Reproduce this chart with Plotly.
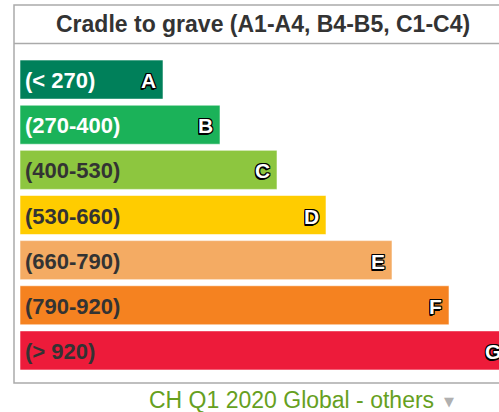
import plotly.graph_objects as go

grades = ["A", "B", "C", "D", "E", "F", "G"]
ranges = ["(< 270)", "(270-400)", "(400-530)", "(530-660)", "(660-790)", "(790-920)", "(> 920)"]
bar_lengths = [143, 200, 257, 306, 372, 429, 488]
colors = ["#00805a", "#1bb259", "#8dc63f", "#ffcc00", "#f4ab63", "#f58220", "#ed1b3a"]
label_colors = ["#ffffff", "#ffffff", "#333333", "#333333", "#333333", "#333333", "#333333"]
title_text = "Cradle to grave (A1-A4, B4-B5, C1-C4)"
footer_text = "CH Q1 2020 Global - others"

X_MAX = 479
FONT = "Liberation Sans, Arial, Helvetica, sans-serif"
outline = ("-1px -1px 0 #000, 1px -1px 0 #000, -1px 1px 0 #000, 1px 1px 0 #000, "
           "0 1px 0 #000, 1px 0 0 #000, -1px 0 0 #000, 0 -1px 0 #000, -1px 2px 0 #000")

W, H = 499, 412
L, T, B = 20, 57, 412 - 373

fig = go.Figure()
fig.add_trace(go.Bar(
    y=grades,
    x=bar_lengths,
    orientation="h",
    marker=dict(color=colors, line=dict(color="rgba(255,255,255,0.55)", width=1)),
    cliponaxis=True,
    hoverinfo="skip",
))

annotations = []
for g, r, c, v in zip(grades, ranges, label_colors, bar_lengths):
    annotations.append(dict(
        x=0, y=g, xref="x", yref="y", text=r, showarrow=False,
        xanchor="left", yanchor="middle", xshift=3, yshift=-1,
        font=dict(family=FONT, size=22, color=c, weight="bold"),
    ))
    annotations.append(dict(
        x=v / X_MAX, y=g, xref="paper", yref="y", text=g, showarrow=False,
        xanchor="right", yanchor="middle", xshift=-5, yshift=-1,
        font=dict(family=FONT, size=21, color="#ffffff", weight="bold", shadow=outline),
    ))

plot_w = W - L
plot_h = H - T - B

def px_x(px):
    return (px - L) / plot_w

def px_y(py):
    return (H - B - py) / plot_h

annotations.append(dict(
    x=px_x(263), y=px_y(24), xref="paper", yref="paper", text=title_text,
    showarrow=False, xanchor="center", yanchor="middle",
    font=dict(family=FONT, size=23, color="#333333", weight="bold"),
))
annotations.append(dict(
    x=px_x(291), y=px_y(400), xref="paper", yref="paper", text=footer_text,
    showarrow=False, xanchor="center", yanchor="middle",
    font=dict(family=FONT, size=23, color="#66a01e"),
))
annotations.append(dict(
    x=px_x(449), y=px_y(401), xref="paper", yref="paper", text="▼",
    showarrow=False, xanchor="center", yanchor="middle",
    font=dict(family="DejaVu Sans", size=13, color="#b0b0b0"),
))

shapes = [
    dict(type="rect", xref="paper", yref="paper",
         x0=px_x(14), x1=px_x(540), y0=px_y(383), y1=px_y(5),
         line=dict(color="#aaaaaa", width=1.5), fillcolor="rgba(0,0,0,0)", layer="below"),
    dict(type="line", xref="paper", yref="paper",
         x0=px_x(14), x1=px_x(540), y0=px_y(43.5), y1=px_y(43.5),
         line=dict(color="#aaaaaa", width=1.5)),
]

fig.update_layout(
    width=W, height=H,
    margin=dict(l=L, r=0, t=T, b=B, pad=0),
    paper_bgcolor="#ffffff", plot_bgcolor="#ffffff",
    bargap=0.135,
    showlegend=False,
    xaxis=dict(range=[0, X_MAX], visible=False, fixedrange=True),
    yaxis=dict(categoryorder="array", categoryarray=grades, autorange="reversed",
               visible=False, fixedrange=True),
    annotations=annotations,
    shapes=shapes,
)

fig.write_html(
    "out.html",
    config={"displayModeBar": False},
    post_script="document.body.style.margin='0';document.body.style.overflow='hidden';",
)
